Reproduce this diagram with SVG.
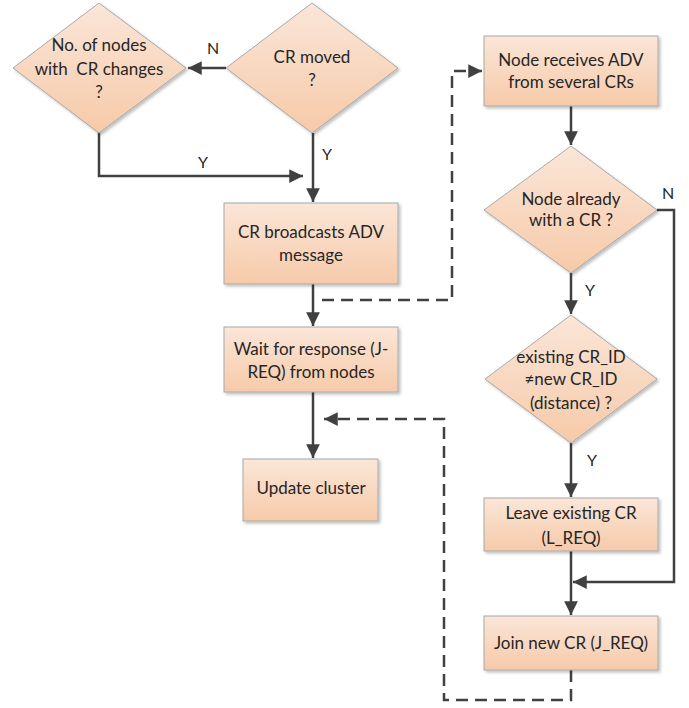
<svg xmlns="http://www.w3.org/2000/svg" width="689" height="708" viewBox="0 0 689 708">
<defs>
<linearGradient id="g" x1="0" y1="0" x2="0" y2="1">
<stop offset="0" stop-color="#fbe6d8"/>
<stop offset="1" stop-color="#f6caa9"/>
</linearGradient>
<filter id="sh" x="-10%" y="-10%" width="130%" height="130%">
<feGaussianBlur in="SourceAlpha" stdDeviation="1.5"/>
<feOffset dx="2" dy="2" result="b"/>
<feComponentTransfer><feFuncA type="linear" slope="0.25"/></feComponentTransfer>
<feMerge><feMergeNode/><feMergeNode in="SourceGraphic"/></feMerge>
</filter>
<marker id="ah" viewBox="0 0 10 10" refX="10" refY="5" markerWidth="5.5" markerHeight="5.5" orient="auto" markerUnits="strokeWidth">
<path d="M0,0 L10,5 L0,10 z" fill="#404040"/>
</marker>
</defs>
<style>
.n{fill:url(#g);stroke:#a8a8a8;stroke-width:1;filter:url(#sh)}
.t{font-family:Lato,"Open Sans","Liberation Sans",sans-serif;font-size:17px;fill:#262626;text-anchor:middle;white-space:pre}
.l{font-family:Lato,"Open Sans","Liberation Sans",sans-serif;font-size:16px;fill:#262626;text-anchor:middle}
.c{fill:none;stroke:#404040;stroke-width:2.5}
.d{stroke-dasharray:12 7}
</style>
<g id="connectors">
<path class="c" d="M226,68 H188" marker-end="url(#ah)"/>
<path class="c" d="M99,132 V176 H303" marker-end="url(#ah)"/>
<path class="c" d="M313,133 V202" marker-end="url(#ah)"/>
<path class="c" d="M313,284 V326" marker-end="url(#ah)"/>
<path class="c d" d="M322,300 H452 V71 H482" marker-end="url(#ah)"/>
<path class="c" d="M571,106 V145" marker-end="url(#ah)"/>
<path class="c" d="M657,210 H674 V582 H573" marker-end="url(#ah)"/>
<path class="c" d="M571,273 V314" marker-end="url(#ah)"/>
<path class="c" d="M571,443 V497" marker-end="url(#ah)"/>
<path class="c" d="M571,551 V615" marker-end="url(#ah)"/>
<path class="c" d="M313,392 V458" marker-end="url(#ah)"/>
<path class="c d" d="M571,670 V700 H444 V419 H324" marker-end="url(#ah)"/>
<text class="l" x="213" y="54">N</text>
<text class="l" x="203" y="168">Y</text>
<text class="l" x="327" y="160">Y</text>
<text class="l" x="668" y="199">N</text>
<text class="l" x="590" y="296">Y</text>
<text class="l" x="592" y="466">Y</text>
</g>
<g id="d1">
<path class="n" d="M99,3 L186,68 L99,133 L13,68 z"/>
<text class="t" x="99" y="51">No. of nodes</text>
<text class="t" x="99" y="75">with  CR changes</text>
<text class="t" x="99" y="98">?</text>
</g>
<g id="d2">
<path class="n" d="M312,3 L398,68 L312,133 L226,68 z"/>
<text class="t" x="312" y="63">CR moved</text>
<text class="t" x="312" y="86">?</text>
</g>
<g id="b1">
<rect class="n" x="224" y="203" width="174" height="81"/>
<text class="t" x="311" y="238">CR broadcasts ADV</text>
<text class="t" x="311" y="261">message</text>
</g>
<g id="b2">
<rect class="n" x="224" y="327" width="174" height="65"/>
<text class="t" x="311" y="355">Wait for response (J-</text>
<text class="t" x="311" y="378">REQ) from nodes</text>
</g>
<g id="b3">
<rect class="n" x="243" y="459" width="135" height="62"/>
<text class="t" x="311" y="494">Update cluster</text>
</g>
<g id="b4">
<rect class="n" x="484" y="36" width="174" height="70"/>
<text class="t" x="571" y="66">Node receives ADV</text>
<text class="t" x="571" y="88">from several CRs</text>
</g>
<g id="d3">
<path class="n" d="M571,146 L657,210 L571,273 L484,210 z"/>
<text class="t" x="571" y="205">Node already</text>
<text class="t" x="571" y="226">with a CR ?</text>
</g>
<g id="d4">
<path class="n" d="M571,315 L657,379 L571,443 L485,379 z"/>
<text class="t" x="571" y="363">existing CR_ID</text>
<text class="t" x="571" y="385">≠new CR_ID</text>
<text class="t" x="571" y="409">(distance) ?</text>
</g>
<g id="b5">
<rect class="n" x="484" y="498" width="174" height="53"/>
<text class="t" x="571" y="519">Leave existing CR</text>
<text class="t" x="571" y="544">(L_REQ)</text>
</g>
<g id="b6">
<rect class="n" x="484" y="616" width="174" height="54"/>
<text class="t" x="571" y="649">Join new CR (J_REQ)</text>
</g>
</svg>
